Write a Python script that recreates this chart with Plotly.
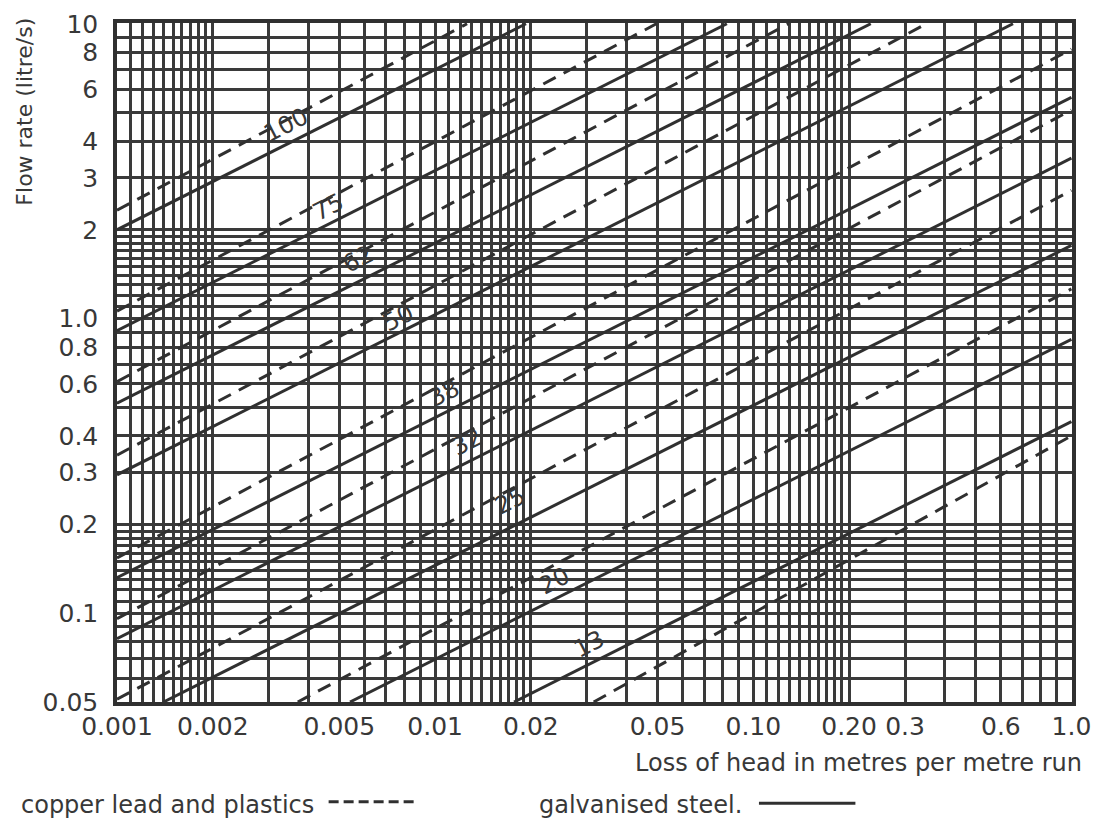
import math
import plotly.graph_objects as go

# ---------------- data ----------------
# nominal pipe sizes (mm) written on the chart
pipe_sizes = ["100", "75", "62", "50", "38", "32", "25", "20", "13"]

# galvanised steel (solid lines): where each line enters / leaves the grid
# loss of head (m per m run) and flow rate (litre/s)
steel_head_start = [0.001, 0.001, 0.001, 0.001, 0.001, 0.001, 0.0014, 0.0054, 0.0177]
steel_flow_start = [2.0, 0.91, 0.516, 0.295, 0.132, 0.082, 0.05, 0.05, 0.05]
steel_head_end = [0.0193, 0.0826, 0.234, 0.655, 1.0, 1.0, 1.0, 1.0, 1.0]
steel_flow_end = [10.0, 10.0, 10.0, 10.0, 5.63, 3.50, 1.77, 0.85, 0.447]

# copper, lead and plastics (dashed lines)
copper_head_start = [0.001, 0.001, 0.001, 0.001, 0.001, 0.001, 0.001, 0.0037, 0.0315]
copper_flow_start = [2.33, 1.06, 0.611, 0.344, 0.154, 0.0958, 0.0511, 0.05, 0.05]
copper_head_end = [0.0126, 0.0496, 0.129, 0.350, 1.0, 1.0, 1.0, 1.0, 1.0]
copper_flow_end = [10.0, 10.0, 10.0, 10.0, 8.2, 5.10, 2.72, 1.26, 0.40]

# where the size labels sit on the chart
label_head = [0.0034, 0.00462, 0.00574, 0.00765, 0.01072, 0.01265, 0.01723, 0.02364, 0.0306]
label_flow = [4.545, 2.39, 1.59, 1.005, 0.557, 0.380, 0.240, 0.129, 0.0785]

# axis ticks
x_tick_vals = [0.001, 0.002, 0.005, 0.01, 0.02, 0.05, 0.1, 0.2, 0.3, 0.6, 1.0]
x_tick_text = ["0.001", "0.002", "0.005", "0.01", "0.02", "0.05", "0.10", "0.20", "0.3", "0.6", "1.0"]
y_tick_vals = [0.05, 0.1, 0.2, 0.3, 0.4, 0.6, 0.8, 1.0, 2, 3, 4, 6, 8, 10]
y_tick_text = ["0.05", "0.1", "0.2", "0.3", "0.4", "0.6", "0.8", "1.0", "2", "3", "4", "6", "8", "10"]

# grid rulings inside every decade of the log paper
grid_steps = [1.0, 1.1, 1.2, 1.3, 1.4, 1.5, 1.6, 1.7, 1.8, 1.9, 2.0, 3, 4, 5, 6, 7, 8, 9]
x_decades = [0.001, 0.01, 0.1, 1.0]
y_decades = [0.01, 0.1, 1.0, 10.0]
x_min, x_max = 0.001, 1.0
y_min, y_max = 0.05, 10.0


def grid_values(decades, lo, hi):
    vals = set()
    for d in decades:
        for s in grid_steps:
            v = round(d * s, 10)
            if lo * 0.999 <= v <= hi * 1.001:
                vals.add(v)
    return sorted(vals)


INK = "#303030"
GRID = "#3a3a3a"
TEXT = "#383838"
FONT = "DejaVu Sans"

fig = go.Figure()

for k, size in enumerate(pipe_sizes):
    fig.add_trace(go.Scatter(
        x=[copper_head_start[k], copper_head_end[k]],
        y=[copper_flow_start[k], copper_flow_end[k]],
        mode="lines", name=f"{size} copper lead and plastics",
        line=dict(color=INK, width=3, dash="14px,9px"),
        showlegend=False, hoverinfo="skip"))
    fig.add_trace(go.Scatter(
        x=[steel_head_start[k], steel_head_end[k]],
        y=[steel_flow_start[k], steel_flow_end[k]],
        mode="lines", name=f"{size} galvanised steel",
        line=dict(color=INK, width=3),
        showlegend=False, hoverinfo="skip"))

annotations = []
for k, size in enumerate(pipe_sizes):
    annotations.append(dict(
        x=math.log10(label_head[k]), y=math.log10(label_flow[k]),
        xref="x", yref="y", text=size, showarrow=False, textangle=-27,
        font=dict(family=FONT, size=24, color=TEXT)))

annotations += [
    dict(x=-0.097, y=0.87, xref="paper", yref="paper", text="Flow rate (litre/s)",
         textangle=-90, showarrow=False, xanchor="center", yanchor="middle",
         font=dict(family=FONT, size=22, color=TEXT)),
    dict(x=1.0125, y=-0.0896, xref="paper", yref="paper",
         text="Loss of head in metres per metre run", showarrow=False,
         xanchor="right", yanchor="middle", font=dict(family=FONT, size=24, color=TEXT)),
    dict(x=-0.103, y=-0.151, xref="paper", yref="paper", text="copper lead and plastics",
         showarrow=False, xanchor="left", yanchor="middle",
         font=dict(family=FONT, size=24, color=TEXT)),
    dict(x=0.4402, y=-0.151, xref="paper", yref="paper", text="galvanised steel.",
         showarrow=False, xanchor="left", yanchor="middle",
         font=dict(family=FONT, size=24, color=TEXT)),
]

shapes = [
    dict(type="line", xref="paper", yref="paper", x0=0.2216, x1=0.3153, y0=-0.147, y1=-0.147,
         line=dict(color=INK, width=3, dash="10px,5px")),
    dict(type="line", xref="paper", yref="paper", x0=0.6722, x1=0.7732, y0=-0.149, y1=-0.149,
         line=dict(color=INK, width=3)),
]

axis_common = dict(
    type="log", showgrid=True, gridcolor=GRID, gridwidth=2.5,
    showline=True, mirror=True, linecolor=INK, linewidth=3.5,
    ticks="", tickfont=dict(family=FONT, size=25, color=TEXT),
    tickmode="array", zeroline=False,
)

fig.update_layout(
    width=1101, height=821,
    margin=dict(l=117, r=23, t=10, b=119),
    paper_bgcolor="white", plot_bgcolor="white",
    xaxis=dict(axis_common, range=[math.log10(x_min), math.log10(x_max * 1.004)],
               tickvals=x_tick_vals, ticktext=x_tick_text, ticklabelstandoff=-1,
               minor=dict(tickmode="array", tickvals=grid_values(x_decades, x_min, x_max),
                          showgrid=True, gridcolor=GRID, gridwidth=2.5, ticks="")),
    yaxis=dict(axis_common, range=[math.log10(y_min), math.log10(y_max * 1.006)],
               tickvals=y_tick_vals, ticktext=y_tick_text, ticklabelstandoff=10,
               minor=dict(tickmode="array", tickvals=grid_values(y_decades, y_min, y_max),
                          showgrid=True, gridcolor=GRID, gridwidth=2.5, ticks="")),
    annotations=annotations, shapes=shapes, showlegend=False,
)

fig.write_html(
    "out.html",
    config={"displayModeBar": False},
    post_script="document.body.style.margin='0';document.body.style.overflow='hidden';",
)
